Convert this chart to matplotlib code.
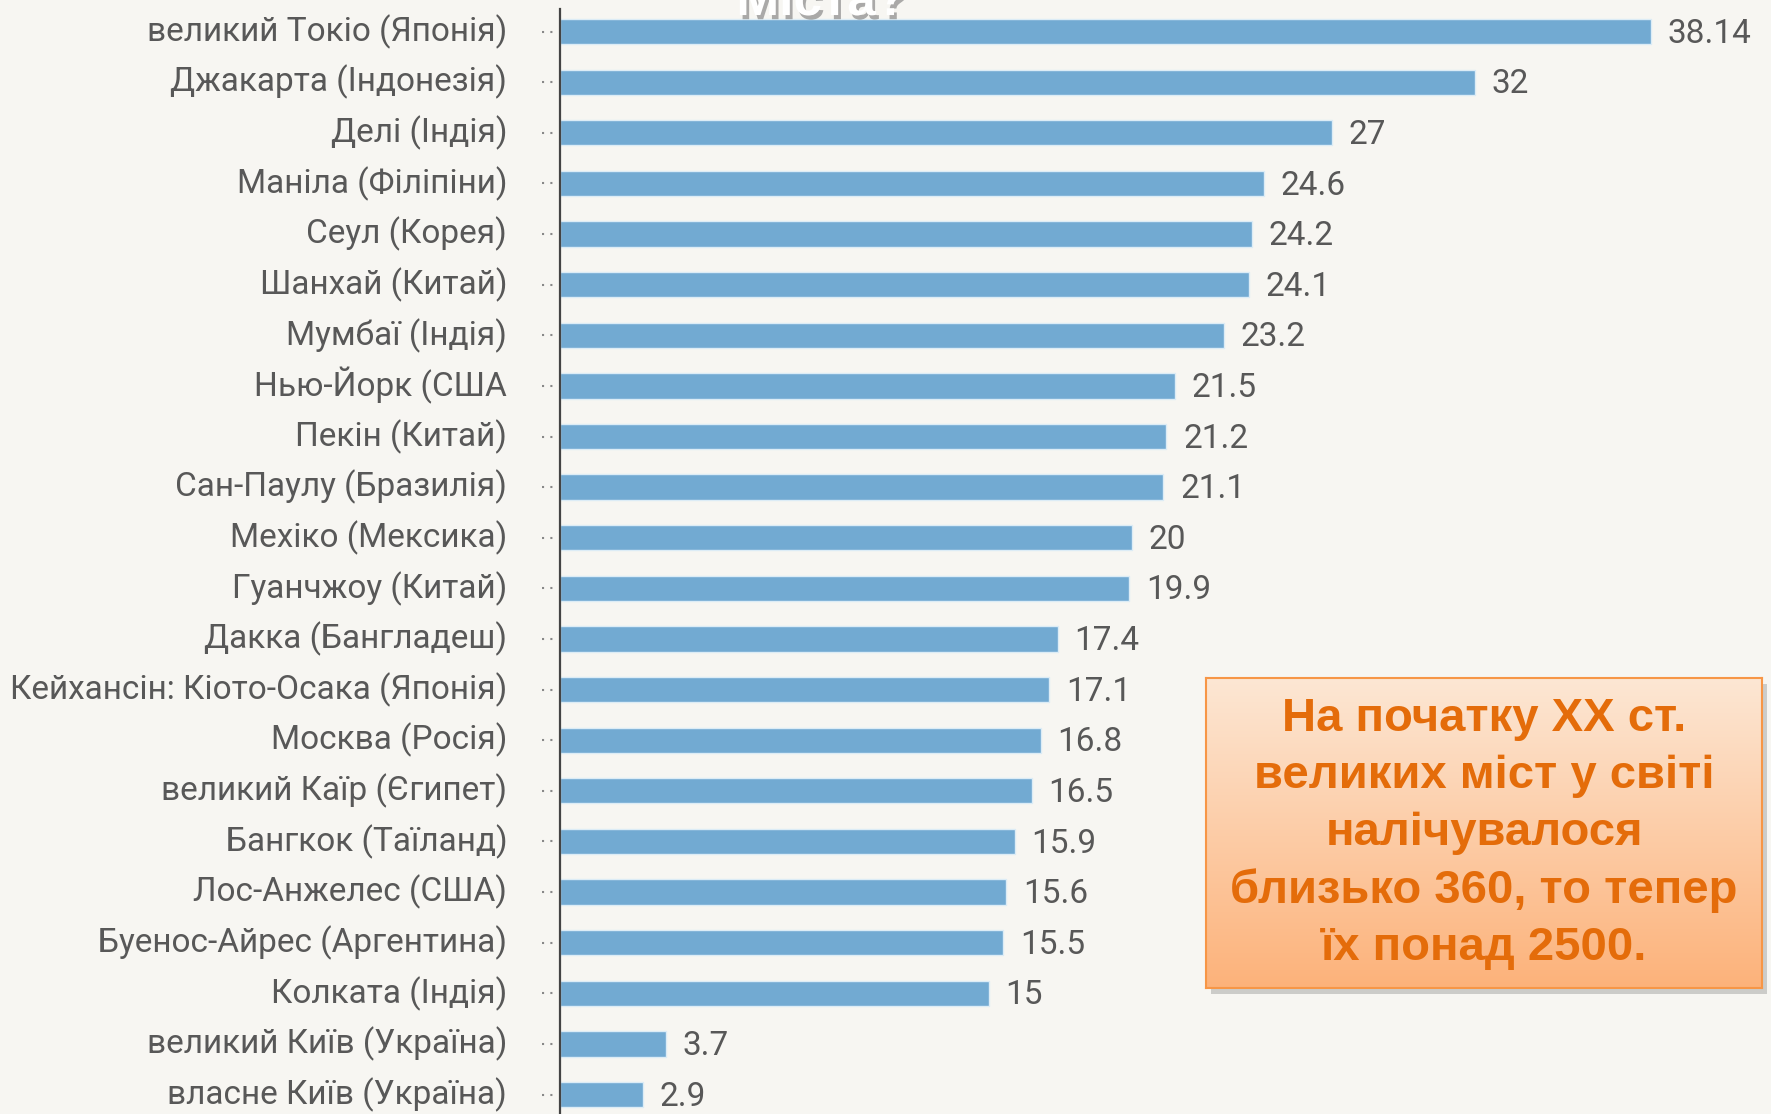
import numpy as np
import matplotlib.pyplot as plt
import matplotlib.patheffects as pe
from matplotlib import font_manager
from matplotlib.transforms import blended_transform_factory
from matplotlib.patches import Rectangle

cities = ['великий Токіо (Японія)', 'Джакарта (Індонезія)', 'Делі (Індія)',
          'Маніла (Філіпіни)', 'Сеул (Корея)', 'Шанхай (Китай)', 'Мумбаї (Індія)',
          'Нью-Йорк (США', 'Пекін (Китай)', 'Сан-Паулу (Бразилія)', 'Мехіко (Мексика)',
          'Гуанчжоу (Китай)', 'Дакка (Бангладеш)', 'Кейхансін: Кіото-Осака (Японія)',
          'Москва (Росія)', 'великий Каїр (Єгипет)', 'Бангкок (Таїланд)',
          'Лос-Анжелес (США)', 'Буенос-Айрес (Аргентина)', 'Колката (Індія)',
          'великий Київ (Україна)', 'власне Київ (Україна)']
population = [38.14, 32, 27, 24.6, 24.2, 24.1, 23.2, 21.5, 21.2, 21.1, 20,
              19.9, 17.4, 17.1, 16.8, 16.5, 15.9, 15.6, 15.5, 15, 3.7, 2.9]
value_labels = ['38.14', '32', '27', '24.6', '24.2', '24.1', '23.2', '21.5', '21.2',
                '21.1', '20', '19.9', '17.4', '17.1', '16.8', '16.5', '15.9', '15.6',
                '15.5', '15', '3.7', '2.9']
note = 'На початку ХХ ст.\nвеликих міст у світі\nналічувалося\nблизько 360, то тепер\nїх понад 2500.'

bg = '#f7f6f2'
bar_color = '#72aad2'
text_color = '#585858'

plt.rcParams['font.family'] = ['Roboto', 'DejaVu Sans']

# narrow bold face for the note, if there is one
names = {f.name for f in font_manager.fontManager.ttflist}
if 'Liberation Sans Narrow' in names:
    note_family, note_size, note_ls = 'Liberation Sans Narrow', 40, 1.16
else:
    note_family, note_size, note_ls = 'Liberation Sans', 34, 1.38

fig = plt.figure(figsize=(17.71, 11.14), dpi=100, facecolor=bg)
ax = fig.add_axes([0.3162, 0, 0.6838, 0.9919])
ax.set_facecolor(bg)

y = np.arange(len(cities))
ax.barh(y, population, height=0.5, color=bar_color, edgecolor='#dcecf6', linewidth=1)
ax.set_xlim(0, 42.34)
ax.set_ylim(21.385, -0.446)

ax.set_yticks(y)
ax.set_yticklabels(cities, fontsize=24, color=text_color)
ax.tick_params(axis='y', length=0, pad=38)
for lbl in ax.get_yticklabels():
    lbl.set_va('center')
ax.set_xticks([])
for s in ['top', 'right', 'bottom']:
    ax.spines[s].set_visible(False)
ax.spines['left'].set_color('#444444')
ax.spines['left'].set_linewidth(1.6)

# dotted ticks
tr = blended_transform_factory(ax.transAxes, ax.transData)
for yi in y:
    ax.plot([-0.0149, -0.004], [yi, yi], color='#888888', linestyle=(0, (1, 3)),
            linewidth=1.5, transform=tr, clip_on=False)

for yi, v, lab in zip(y, population, value_labels):
    ax.annotate(lab, (v, yi), xytext=(12, -1.5), textcoords='offset points',
                va='center', ha='left', fontsize=24, color=text_color)

# clipped title
fig.text(0.464, 0.9865, 'Міста?', ha='center', va='baseline', fontsize=37,
         fontweight='bold', color='white', family=['Liberation Sans', 'DejaVu Sans'],
         path_effects=[pe.withSimplePatchShadow(offset=(2, -3), shadow_rgbFace='#777777', alpha=0.6)])

# note box with gradient
bx, by, bw, bh = 0.681, 0.1131, 0.314, 0.278
fig.patches.append(Rectangle((bx + 0.003, by - 0.005), bw, bh, transform=fig.transFigure,
                             facecolor='#999999', alpha=0.45, edgecolor='none', zorder=1))
bax = fig.add_axes([bx, by, bw, bh], zorder=5)
grad = np.linspace(0, 1, 256).reshape(-1, 1)
top_c = np.array([253, 231, 212]) / 255
bot_c = np.array([252, 178, 122]) / 255
img = top_c + (bot_c - top_c) * grad[:, :, None]
bax.imshow(img, aspect='auto', extent=[0, 1, 0, 1], origin='upper')
bax.set_xlim(0, 1)
bax.set_ylim(0, 1)
bax.set_xticks([])
bax.set_yticks([])
for s in bax.spines.values():
    s.set_color('#f79646')
    s.set_linewidth(1.5)
bax.text(0.5, 0.5, note, ha='center', va='center', fontsize=note_size, fontweight='bold',
         color='#e46c0a', linespacing=note_ls, family=[note_family, 'DejaVu Sans'])

fig.savefig('out.png', dpi=100, facecolor=bg)
